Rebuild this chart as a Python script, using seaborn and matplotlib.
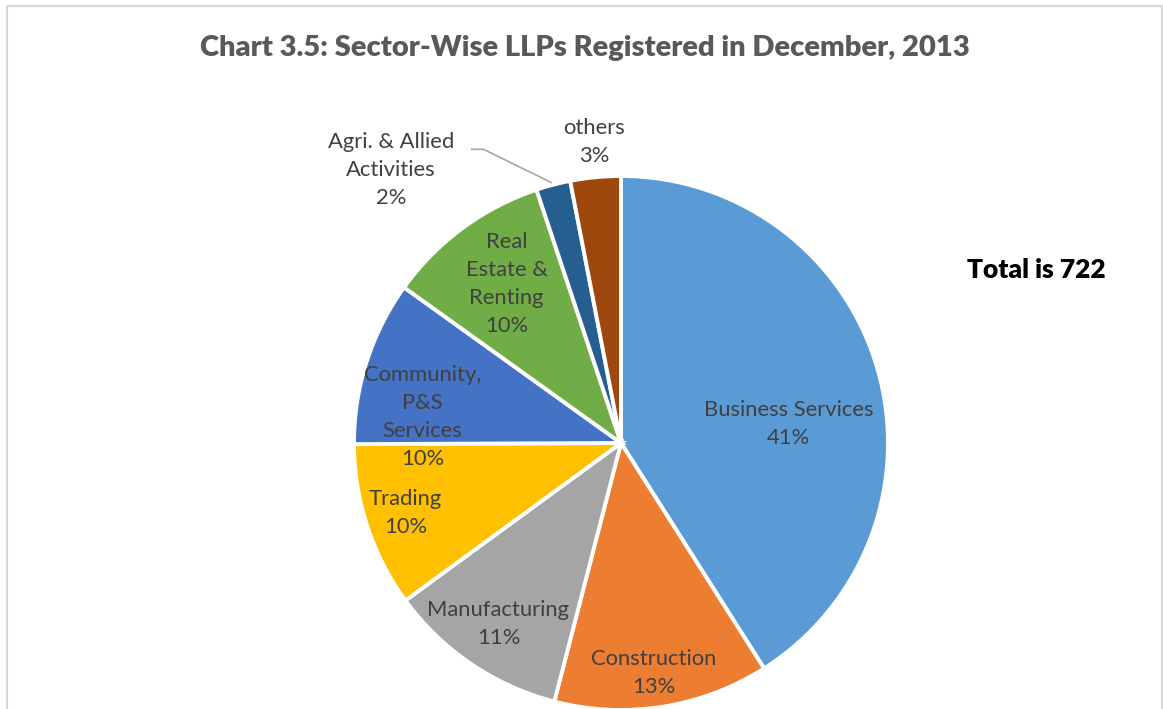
import numpy as np
import matplotlib
matplotlib.use("Agg")
import matplotlib.pyplot as plt
import seaborn as sns
from matplotlib.patches import Rectangle

# data (counts, total 722)
sectors = ['Business Services', 'Construction', 'Manufacturing', 'Trading',
           'Community,\nP&S\nServices', 'Real\nEstate &\nRenting',
           'Agri. & Allied\nActivities', 'others']
counts = [296, 94, 79, 72, 72, 72, 15, 22]
pcts = ['41%', '13%', '11%', '10%', '10%', '10%', '2%', '3%']
colors = ['#5B9BD5', '#ED7D31', '#A5A5A5', '#FFC000',
          '#4472C4', '#70AD47', '#255E91', '#9E480E']

# label centres, in pie-radius units (layout only)
label_pos = [(0.628, 0.071), (0.124, -0.861), (-0.459, -0.677), (-0.808, -0.263),
             (-0.744, 0.098), (-0.429, 0.594), (-0.861, 1.023), (-0.10, 1.128)]

sns.set_theme(style="white")
plt.rcParams['font.family'] = ['Lato', 'DejaVu Sans']

W, H = 1163, 709
fig = plt.figure(figsize=(W / 100, H / 100), dpi=100)
fig.patch.set_facecolor('white')

# chart frame
fig.add_artist(Rectangle((7 / W, -0.05), (1162 - 7) / W, 1.05 - 6 / H,
                         transform=fig.transFigure, fill=False,
                         edgecolor='#d9d9d9', linewidth=1.5))

cx, cy, r = 621, 443, 267
ax = fig.add_axes([(cx - r) / W, (H - cy - r) / H, 2 * r / W, 2 * r / H])
wedges, _ = ax.pie(counts, colors=sns.color_palette(colors), startangle=90,
                   counterclock=False, radius=1,
                   wedgeprops=dict(edgecolor='white', linewidth=2.8))
for w in wedges:
    w.set_clip_on(False)
ax.set_xlim(-1, 1)
ax.set_ylim(-1, 1)
ax.set_aspect('equal')
ax.axis('off')

for name, p, (lx, ly) in zip(sectors, pcts, label_pos):
    ax.text(lx, ly, name + '\n' + p, ha='center', va='center', fontsize=15.8,
            color='#404040', linespacing=1.5)

# leader line for the small Agri slice
ax.plot([-0.56, -0.515, -0.26], [1.10, 1.10, 0.975], color='#a6a6a6', lw=1.2,
        clip_on=False)

fig.text(585 / W, 1 - 48 / H, 'Chart 3.5: Sector-Wise LLPs Registered in December, 2013',
         ha='center', va='center', fontsize=21, fontweight='heavy', color='#595959')
fig.text(1036 / W, 1 - 270 / H, 'Total is 722', ha='center', va='center',
         fontsize=19, fontweight='heavy', color='black')

fig.savefig('out.png', dpi=100)
